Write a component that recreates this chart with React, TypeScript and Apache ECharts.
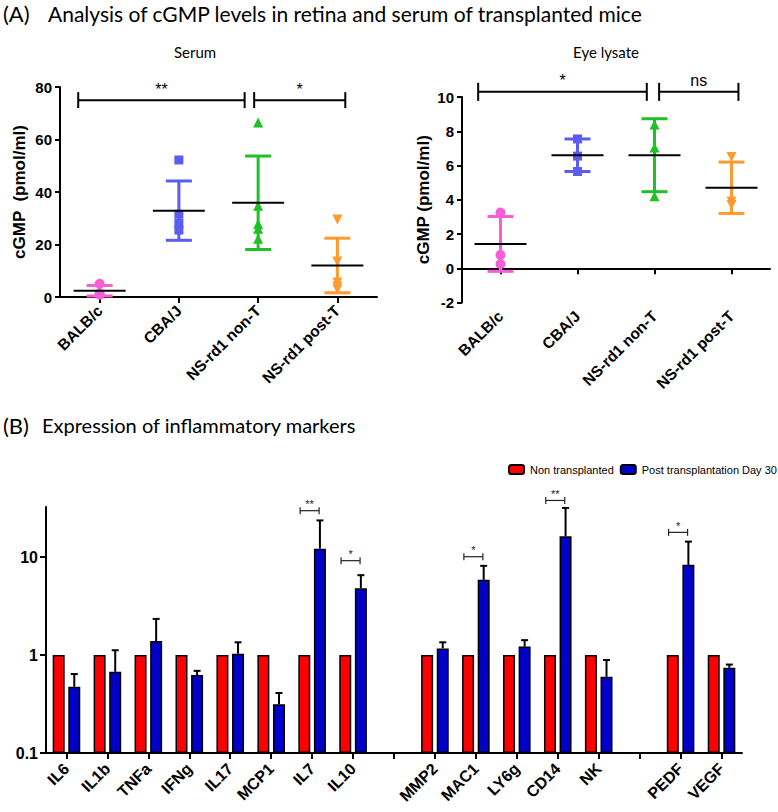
import React, { useEffect, useRef } from 'react';
import * as echarts from 'echarts';

// ---------- Panel A data ----------
const groups = ['BALB/c', 'CBA/J', 'NS-rd1 non-T', 'NS-rd1 post-T'];

const serumPoints = [
  [5.0, 1.3, 0.9],
  [52.2, 31.5, 28.0, 25.5],
  [66.5, 34.8, 27.8, 26.0, 22.2],
  [29.5, 13.5, 5.5, 4.0, 3.0],
];
const serumMean = [2.4, 32.9, 35.9, 12.0];
const serumSD = [2.0, 11.3, 17.8, 10.4];
const serumSigFrom = [0, 2];
const serumSigTo = [2, 3];
const serumSigY = [75, 75];
const serumSigLabel = ['**', '*'];

const eyePoints = [
  [3.25, 0.78, 0.25],
  [7.55, 6.55, 5.65],
  [8.4, 7.05, 4.2],
  [6.5, 3.9, 3.7],
];
const eyeMean = [1.42, 6.6, 6.6, 4.7];
const eyeSD = [1.6, 0.95, 2.13, 1.5];
const eyeSigFrom = [0, 2];
const eyeSigTo = [2, 3];
const eyeSigY = [10.3, 10.3];
const eyeSigLabel = ['*', 'ns'];

// ---------- Panel B data ----------
const markers = ['IL6', 'IL1b', 'TNFa', 'IFNg', 'IL17', 'MCP1', 'IL7', 'IL10', '', 'MMP2', 'MAC1', 'LY6g', 'CD14', 'NK', ' ', 'PEDF', 'VEGF'];
const nonTransplanted = [1, 1, 1, 1, 1, 1, 1, 1, null, 1, 1, 1, 1, 1, null, 1, 1];
const postTransplant = [0.474, 0.675, 1.39, 0.624, 1.03, 0.315, 12.2, 4.82, null, 1.17, 5.86, 1.22, 16.3, 0.6, null, 8.34, 0.741];
const postTransplantErrTop = [0.64, 1.12, 2.34, 0.69, 1.35, 0.41, 23.7, 6.54, null, 1.35, 8.15, 1.42, 31.8, 0.89, null, 14.4, 0.8];
const barSigIndex = [6, 7, 10, 12, 15];
const barSigY = [29.8, 9.2, 10.1, 37.9, 17.9];
const barSigLabel = ['**', '*', '*', '**', '*'];

// ---------- styles ----------
const groupColors = ['#f45fd6', '#5b5cf0', '#1fc125', '#ff9a2e'];
const groupSymbols = ['circle', 'rect', 'triangle', 'triangle'];
const groupSymbolRotate = [0, 0, 0, 180];
const serumSigOffsets = [[-0.27, -0.17], [-0.05, 0.1]];
const eyeSigOffsets = [[-0.29, -0.1], [0.06, 0.09]];
const AX = 'Liberation Sans, Arial, sans-serif';
const HEAD = 'Lato, sans-serif';

function axisBase() {
  return {
    axisLine: { show: true, lineStyle: { color: '#000', width: 2 } },
    axisTick: { show: true, length: 5, lineStyle: { color: '#000', width: 2 } },
    splitLine: { show: false },
  };
}

function sdSeries(xi: number, means: number[], sds: number[]) {
  return {
    type: 'custom', xAxisIndex: xi, yAxisIndex: xi, silent: true, z: 3,
    data: means.map((m, i) => [i, m, sds[i]]),
    renderItem: (params: any, api: any) => {
      const i = api.value(0), m = api.value(1), sd = api.value(2);
      const hi = api.coord([i, m + sd]);
      const lo = api.coord([i, m - sd]);
      const col = groupColors[i];
      const st = { stroke: col, lineWidth: 3 };
      return {
        type: 'group', children: [
          { type: 'line', shape: { x1: hi[0], y1: hi[1], x2: lo[0], y2: lo[1] }, style: st },
          { type: 'line', shape: { x1: hi[0] - 13, y1: hi[1], x2: hi[0] + 13, y2: hi[1] }, style: st },
          { type: 'line', shape: { x1: lo[0] - 13, y1: lo[1], x2: lo[0] + 13, y2: lo[1] }, style: st },
        ],
      };
    },
  };
}

function meanSeries(xi: number, means: number[]) {
  return {
    type: 'custom', xAxisIndex: xi, yAxisIndex: xi, silent: true, z: 6,
    data: means.map((m, i) => [i, m]),
    renderItem: (params: any, api: any) => {
      const c = api.coord([api.value(0), api.value(1)]);
      return { type: 'line', shape: { x1: c[0] - 26, y1: c[1], x2: c[0] + 26, y2: c[1] }, style: { stroke: '#000', lineWidth: 2 } };
    },
  };
}

function scatterSeries(xi: number, pts: number[][]) {
  return pts.map((arr, g) => ({
    type: 'scatter', xAxisIndex: xi, yAxisIndex: xi, z: 4, silent: true,
    symbol: groupSymbols[g], symbolRotate: groupSymbolRotate[g], symbolSize: g === 1 ? 9 : 10,
    itemStyle: { color: groupColors[g], opacity: 1 },
    data: arr.map((v) => [g, v]),
  }));
}

function sigSeries(xi: number, from: number[], to: number[], ys: number[], labels: string[], offsets: number[][], tickH: number) {
  return {
    type: 'custom', xAxisIndex: xi, yAxisIndex: xi, silent: true, z: 8, clip: false,
    data: from.map((f, i) => [f, to[i], ys[i]]),
    renderItem: (params: any, api: any) => {
      const i = params.dataIndex;
      const bw = api.size([1, 0])[0];
      const p1 = api.coord([api.value(0), api.value(2)]);
      const p2 = api.coord([api.value(1), api.value(2)]);
      const x1 = p1[0] + offsets[i][0] * bw;
      const x2 = p2[0] + offsets[i][1] * bw;
      const y = p1[1];
      const st = { stroke: '#000', lineWidth: 2 };
      return {
        type: 'group', children: [
          { type: 'line', shape: { x1, y1: y, x2, y2: y }, style: st },
          { type: 'line', shape: { x1, y1: y - tickH, x2: x1, y2: y + tickH }, style: st },
          { type: 'line', shape: { x1: x2, y1: y - tickH, x2, y2: y + tickH }, style: st },
          { type: 'text', x: (x1 + x2) / 2, y: y - 3, style: { text: labels[i], fill: '#000', font: '16px ' + AX, textAlign: 'center', textVerticalAlign: 'bottom' } },
        ],
      };
    },
  };
}

export default function App() {
  const ref = useRef<HTMLDivElement>(null);
  useEffect(() => {
    if (!ref.current) return;
    const chart = echarts.init(ref.current, null, { renderer: 'svg' });
    const topXAxis = (gi: number) => ({
      type: 'category', gridIndex: gi, data: groups, boundaryGap: true,
      ...axisBase(),
      axisTick: { show: true, alignWithLabel: true, length: 6, lineStyle: { color: '#000', width: 2 } },
      axisLabel: { rotate: 45, interval: 0, color: '#000', fontWeight: 'bold', fontSize: 15.5, fontFamily: AX, margin: 11 },
    });
    const option: any = {
      animation: false,
      backgroundColor: '#fff',
      grid: [
        { left: 60, top: 87, width: 317, height: 210 },
        { left: 462, top: 97, width: 308, height: 205.5 },
        { left: 46, top: 507, width: 696, height: 246 },
      ],
      xAxis: [
        topXAxis(0),
        topXAxis(1),
        {
          type: 'category', gridIndex: 2, data: markers, boundaryGap: true,
          ...axisBase(),
          axisTick: { show: true, alignWithLabel: true, interval: 0, length: 6, lineStyle: { color: '#000', width: 2 } },
          axisLabel: { rotate: 45, interval: 0, color: '#000', fontWeight: 'bold', fontSize: 16, fontFamily: AX, margin: 13 },
        },
      ],
      yAxis: [
        {
          type: 'value', gridIndex: 0, min: 0, max: 80, interval: 20, ...axisBase(),
          axisLabel: { color: '#000', fontWeight: 'bold', fontSize: 15, fontFamily: AX, margin: 8 },
          name: 'cGMP  (pmol/ml)', nameLocation: 'middle', nameGap: 32,
          nameTextStyle: { color: '#000', fontWeight: 'bold', fontSize: 17, fontFamily: AX },
        },
        {
          type: 'value', gridIndex: 1, min: -2, max: 10, interval: 2, ...axisBase(),
          axisLabel: { color: '#000', fontWeight: 'bold', fontSize: 15, fontFamily: AX, margin: 8 },
          name: 'cGMP (pmol/ml)', nameLocation: 'middle', nameGap: 30,
          nameTextStyle: { color: '#000', fontWeight: 'bold', fontSize: 17, fontFamily: AX },
        },
        {
          type: 'log', logBase: 10, gridIndex: 2, min: 0.1, max: 32.5, startValue: 0.1, ...axisBase(),
          axisTick: { show: true, length: 6, lineStyle: { color: '#000', width: 2 }, customValues: [0.1, 1, 10] },
          axisLabel: { color: '#000', fontWeight: 'bold', fontSize: 16, fontFamily: AX, margin: 8, customValues: [0.1, 1, 10], formatter: (v: number) => String(v) },
        },
      ],
      legend: {
        left: 503, top: 459, width: 300, itemWidth: 15, itemHeight: 9, itemGap: 6,
        data: ['Non transplanted', 'Post transplantation Day 30'],
        textStyle: { color: '#000', fontSize: 11, fontFamily: AX, padding: [0, 0, 0, 1] },
        selectedMode: false,
      },
      graphic: [
        { type: 'text', x: 3, y: 13, style: { text: '(A)', font: '22px ' + HEAD, fill: '#000', textVerticalAlign: 'middle' } },
        { type: 'text', x: 48, y: 13, style: { text: 'Analysis of cGMP levels in retina and serum of transplanted mice', font: '21px ' + HEAD, fill: '#000', textVerticalAlign: 'middle' } },
        { type: 'text', x: 195, y: 52, style: { text: 'Serum', font: '15px ' + HEAD, fill: '#000', textAlign: 'center', textVerticalAlign: 'middle' } },
        { type: 'text', x: 606, y: 52, style: { text: 'Eye lysate', font: '15px ' + HEAD, fill: '#000', textAlign: 'center', textVerticalAlign: 'middle' } },
        { type: 'text', x: 3, y: 425, style: { text: '(B)', font: '22px ' + HEAD, fill: '#000', textVerticalAlign: 'middle' } },
        { type: 'text', x: 42, y: 425, style: { text: 'Expression of inflammatory markers', font: '20px ' + HEAD, fill: '#000', textVerticalAlign: 'middle' } },
      ],
      series: [
        sdSeries(0, serumMean, serumSD),
        ...scatterSeries(0, serumPoints),
        meanSeries(0, serumMean),
        sigSeries(0, serumSigFrom, serumSigTo, serumSigY, serumSigLabel, serumSigOffsets, 8),
        sdSeries(1, eyeMean, eyeSD),
        ...scatterSeries(1, eyePoints),
        meanSeries(1, eyeMean),
        sigSeries(1, eyeSigFrom, eyeSigTo, eyeSigY, eyeSigLabel, eyeSigOffsets, 9),
        {
          name: 'Non transplanted', type: 'bar', xAxisIndex: 2, yAxisIndex: 2,
          barWidth: 12, barGap: '30%', data: nonTransplanted,
          itemStyle: { color: '#ff0000', borderColor: '#000', borderWidth: 1.5 },
        },
        {
          name: 'Post transplantation Day 30', type: 'bar', xAxisIndex: 2, yAxisIndex: 2,
          barWidth: 12, barGap: '30%', data: postTransplant,
          itemStyle: { color: '#0000c8', borderColor: '#000', borderWidth: 1.5 },
        },
        {
          type: 'custom', xAxisIndex: 2, yAxisIndex: 2, silent: true, z: 1, clip: false,
          data: postTransplant.map((v, i) => (v == null ? [i, NaN, NaN] : [i, v, postTransplantErrTop[i]])),
          renderItem: (params: any, api: any) => {
            const v = api.value(1);
            if (isNaN(v)) return null;
            const a = api.coord([api.value(0), v]);
            const b = api.coord([api.value(0), api.value(2)]);
            const x = a[0] + 7.8;
            const st = { stroke: '#000', lineWidth: 2 };
            return {
              type: 'group', children: [
                { type: 'line', shape: { x1: x, y1: a[1], x2: x, y2: b[1] }, style: st },
                { type: 'line', shape: { x1: x - 3.5, y1: b[1], x2: x + 3.5, y2: b[1] }, style: st },
              ],
            };
          },
        },
        {
          type: 'custom', xAxisIndex: 2, yAxisIndex: 2, silent: true, z: 8, clip: false,
          data: barSigIndex.map((idx, i) => [idx, barSigY[i]]),
          renderItem: (params: any, api: any) => {
            const c = api.coord([api.value(0), api.value(1)]);
            const x1 = c[0] - 12, x2 = c[0] + 7, y = c[1];
            const st = { stroke: '#222', lineWidth: 1.2 };
            return {
              type: 'group', children: [
                { type: 'line', shape: { x1, y1: y, x2, y2: y }, style: st },
                { type: 'line', shape: { x1, y1: y - 3.5, x2: x1, y2: y + 3.5 }, style: st },
                { type: 'line', shape: { x1: x2, y1: y - 3.5, x2, y2: y + 3.5 }, style: st },
                { type: 'text', x: (x1 + x2) / 2, y: y - 1, style: { text: barSigLabel[params.dataIndex], fill: '#222', font: '11px ' + AX, textAlign: 'center', textVerticalAlign: 'bottom' } },
              ],
            };
          },
        },
      ],
    };
    chart.setOption(option);
    return () => chart.dispose();
  }, []);
  return <div ref={ref} style={{ position: 'absolute', left: 0, top: 0, width: 778, height: 812, background: '#fff' }} />;
}
